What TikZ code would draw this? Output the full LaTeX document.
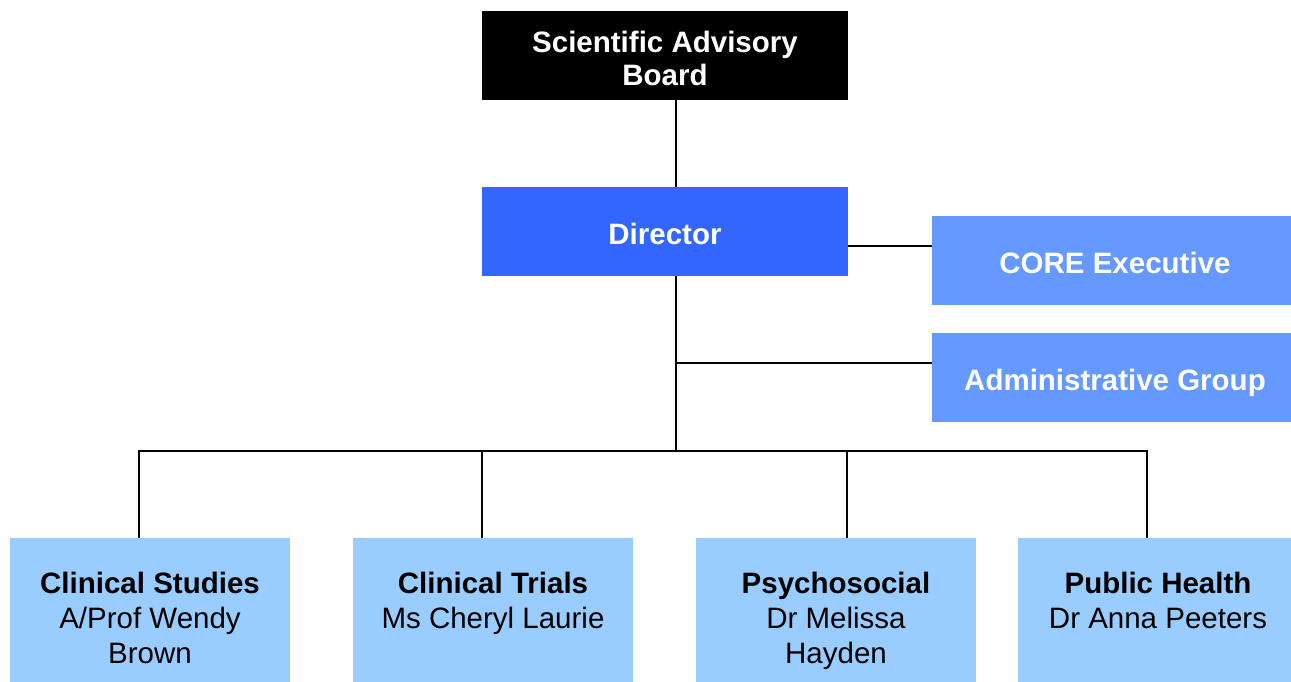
\documentclass[tikz,border=0pt]{standalone}
\usepackage{fontspec}
\setmainfont{Liberation Sans}
\definecolor{dirblue}{HTML}{3366FF}
\definecolor{midblue}{HTML}{6699FF}
\definecolor{lightblue}{HTML}{99CCFF}
\begin{document}
\begin{tikzpicture}[x=1pt,y=-1pt,
  box/.style={rectangle, inner sep=0pt, outer sep=0pt, anchor=north west, draw=none},
  bigbox/.style={box, minimum width=366pt, minimum height=89pt},
  onebox/.style={bigbox, text=white, text height=25pt, text depth=0pt,
     font=\fontsize{29.5}{33}\selectfont\bfseries},
  unitbox/.style={box, fill=lightblue, minimum width=280pt, minimum height=160pt},
  unitlbl/.style={anchor=north, align=center, inner sep=0pt,
     font=\fontsize{29.5}{35}\selectfont},
  conn/.style={draw=black, line width=1.8pt}]
\useasboundingbox (0,0) rectangle (1291,681);
\clip (0,0) rectangle (1291,681);

% boxes
\node[bigbox, fill=black, text=white, align=center,
      font=\fontsize{29.5}{33}\selectfont\bfseries] (sab) at (482,11)
      {\rule{0pt}{27pt}Scientific Advisory\\Board};
\node[onebox, fill=dirblue] (dir) at (482,187) {Director};
\node[onebox, fill=midblue] (core) at (932,216) {CORE Executive};
\node[onebox, fill=midblue] (adm) at (932,333) {Administrative Group};

\node[unitbox] (cs) at (10,538) {};
\node[unitbox] (ct) at (353,538) {};
\node[unitbox] (ps) at (696,538) {};
\node[unitbox] (ph) at (1018,538) {};

\node[unitlbl] (cst) at (150,571.5) {\textbf{Clinical Studies}\\A/Prof Wendy\\Brown};
\node[unitlbl] (ctt) at (493,571.5) {\textbf{Clinical Trials}\\Ms Cheryl Laurie};
\node[unitlbl] (pst) at (836,571.5) {\textbf{Psychosocial}\\Dr Melissa\\Hayden};
\node[unitlbl] (pht) at (1158,571.5) {\textbf{Public Health}\\Dr Anna Peeters};

% connector coordinates
\coordinate (trunk) at (676,0);
\coordinate (coreY) at (0,246);
\coordinate (admY) at (0,363);
\coordinate (csd) at (139,451);
\coordinate (ctd) at (482,451);
\coordinate (psd) at (847,451);
\coordinate (phd) at (1147,451);

% connectors
\draw[conn] (sab.south -| trunk) -- (dir.north -| trunk);
\draw[conn] (dir.south -| trunk) -- (trunk |- csd);
\draw[conn] (dir.east |- coreY) -- (core.west |- coreY);
\draw[conn] (trunk |- admY) -- (adm.west |- admY);
\draw[conn, line cap=rect] (csd) -- (phd);
\draw[conn] (csd) -- (csd |- cs.north);
\draw[conn] (ctd) -- (ctd |- ct.north);
\draw[conn] (psd) -- (psd |- ps.north);
\draw[conn] (phd) -- (phd |- ph.north);
\end{tikzpicture}
\end{document}
